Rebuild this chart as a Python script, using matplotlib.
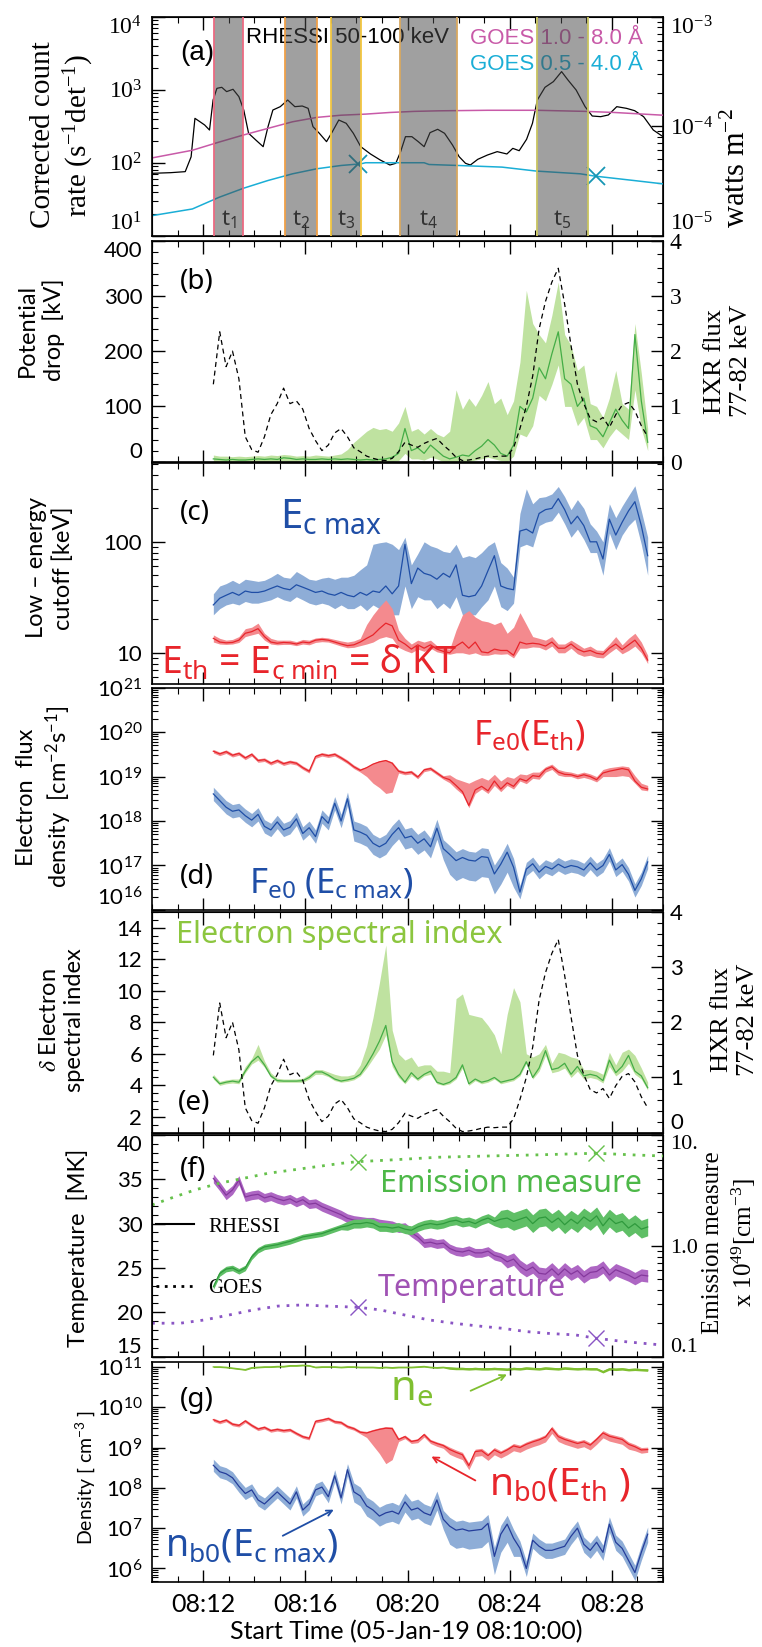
import numpy as np
import matplotlib
matplotlib.use('Agg')
import matplotlib.pyplot as plt
from matplotlib.lines import Line2D
from matplotlib.ticker import FixedLocator, MultipleLocator, NullFormatter, FuncFormatter, LogLocator

SANS = ['Lato', 'DejaVu Sans']
SERIF = ['Liberation Serif', 'DejaVu Serif']
CAP = ['Noto Sans', 'DejaVu Sans']       # coloured captions
NARROW = ['Liberation Sans Narrow', 'Liberation Sans', 'DejaVu Sans']

plt.rcParams['font.family'] = SANS
plt.rcParams['font.weight'] = 'normal'
plt.rcParams['mathtext.fontset'] = 'stix'
plt.rcParams['mathtext.default'] = 'regular'

# ── Panel (a): RHESSI 50-100 keV count rate and GOES fluxes ────────────────────
A_TIME = [10.0, 10.73, 11.30, 11.53, 11.68, 11.87, 12.06, 12.25, 12.39, 12.54, 12.73, 12.92,
          13.17, 13.40, 13.59, 13.78, 14.06, 14.35, 14.54, 14.73, 15.02, 15.31, 15.59, 15.88,
          16.11, 16.30, 16.55, 16.83, 17.06, 17.31, 17.60, 17.88, 18.17, 18.55, 18.93, 19.31,
          19.54, 19.73, 19.92, 20.17, 20.42, 20.65, 20.88, 21.18, 21.45, 21.76, 22.02, 22.27,
          22.46, 22.75, 23.13, 23.51, 23.89, 24.12, 24.37, 24.66, 24.89, 25.08, 25.38, 25.71,
          26.03, 26.28, 26.60, 26.95, 27.23, 27.56, 27.86, 28.19, 28.57, 28.89, 29.24, 29.62, 30.0]
A_LOGRATE = [1.854, 1.863, 1.877, 2.08, 2.607, 2.562, 2.516, 2.447, 2.858, 3.018, 3.032, 2.973,
             3.005, 2.904, 2.721, 2.402, 2.311, 2.219, 2.493, 2.721, 2.767, 2.858, 2.767, 2.776,
             2.744, 2.493, 2.402, 2.288, 2.425, 2.584, 2.539, 2.402, 2.219, 2.119, 2.037, 1.968,
             1.991, 2.151, 2.356, 2.356, 2.288, 2.219, 2.411, 2.457, 2.402, 2.242, 2.082, 1.991,
             1.968, 2.046, 2.105, 2.151, 2.119, 2.196, 2.164, 2.32, 2.539, 2.858, 3.032, 3.11,
             3.247, 3.132, 2.995, 2.767, 2.639, 2.63, 2.653, 2.767, 2.744, 2.712, 2.63, 2.447, 2.356]
G_LONG_TIME = [10.0, 11.58, 12.63, 13.59, 14.54, 15.50, 16.45, 17.40, 18.36, 19.31, 20.27, 21.22,
               23.13, 25.04, 26.95, 28.09, 28.85, 30.0]
G_LONG_LOG = [-4.29, -4.22, -4.145, -4.08, -4.02, -3.96, -3.92, -3.90, -3.89, -3.875, -3.865, -3.86,
              -3.855, -3.855, -3.865, -3.875, -3.885, -3.90]
G_SHORT_TIME = [10.0, 11.58, 12.63, 13.59, 14.54, 15.50, 16.45, 17.40, 18.17, 18.36, 20.65, 20.84,
                21.99, 23.70, 25.04, 26.76, 27.33, 28.85, 30.0]
G_SHORT_LOG = [-4.817, -4.756, -4.649, -4.566, -4.496, -4.435, -4.389, -4.359, -4.344, -4.334, -4.334,
               -4.35, -4.359, -4.374, -4.41, -4.435, -4.456, -4.496, -4.527]
G_MARK_TIME = [18.06, 27.39]
G_MARK_LOG = [-4.344, -4.452]
BAND_START = [12.42, 15.20, 16.99, 19.71, 25.05]
BAND_END = [13.58, 16.46, 18.19, 21.92, 27.07]
BAND_EDGE = ['#ec6a82', '#f0a048', '#f2c640', '#d8a860', '#c8c460']
BAND_LABEL = ['1', '2', '3', '4', '5']

# ── Spectral-fit time grid (minutes after 08:10:00) ────────────────────────────
TIME = np.round(12.4 + 0.25 * np.arange(69), 2)

# (b) potential drop [kV] and HXR flux 77-82 keV
PD = [5, 4, 3, 4, 3, 3, 4, 5, 4, 5, 4, 7, 6, 4, 5, 4, 4, 5, 4, 5, 4, 5, 4, 3, 4, 3, 4, 5, 8, 15,
      60, 20, 25, 15, 30, 20, 10, 5, 8, 12, 10, 20, 28, 40, 30, 15, 10, 30, 100, 90, 115, 170, 150,
      195, 235, 150, 140, 100, 115, 65, 60, 45, 70, 95, 75, 60, 230, 110, 35]
PD_LO = [0, 0, 0, 0, 0, 0, 0, 0, 0, 0, 0, 1, 0, 0, 0, 0, 0, 0, 0, 0, 0, 0, 0, 0, 0, 0, 0, 0, 0, 2,
         15, 5, 5, 3, 8, 5, 0, 0, 0, 0, 0, 3, 5, 8, 5, 2, 0, 10, 50, 45, 65, 120, 110, 140, 175, 100,
         100, 65, 80, 40, 40, 25, 45, 60, 50, 40, 130, 60, 20]
PD_HI = [12, 10, 10, 9, 10, 9, 10, 11, 10, 12, 11, 13, 12, 10, 11, 10, 12, 11, 10, 12, 14, 22, 35,
         45, 55, 62, 58, 60, 55, 70, 100, 55, 60, 50, 60, 50, 45, 55, 130, 95, 115, 100, 120, 145,
         105, 115, 85, 110, 180, 310, 250, 230, 215, 265, 325, 230, 210, 165, 175, 105, 100, 80,
         115, 165, 105, 95, 250, 160, 60]
HXR = [1.40, 2.35, 1.72, 2.0, 1.5, 0.45, 0.22, 0.17, 0.45, 0.85, 1.05, 1.33, 1.05, 1.10, 0.95, 0.6,
       0.38, 0.2, 0.3, 0.52, 0.6, 0.45, 0.25, 0.18, 0.1, 0.06, 0.03, 0.02, 0.06, 0.18, 0.35, 0.3,
       0.26, 0.33, 0.38, 0.42, 0.3, 0.2, 0.08, 0.02, 0.03, 0.05, 0.08, 0.1, 0.09, 0.1, 0.1, 0.25,
       0.6, 1.0, 1.55, 2.4, 2.9, 3.25, 3.5, 2.85, 2.1, 1.4, 1.05, 0.78, 0.72, 0.8, 0.62, 0.85, 1.02,
       1.07, 0.92, 0.65, 0.45]

# (c) low-energy cutoffs [keV]
EC = [27, 31, 33, 35, 33, 36, 35, 35, 36, 38, 40, 38, 37, 41, 39, 37, 35, 36, 34, 33, 35, 33, 32,
      35, 33, 36, 35, 40, 34, 40, 95, 42, 58, 52, 50, 46, 52, 48, 62, 33, 32, 33, 40, 55, 75, 40,
      38, 37, 125, 130, 120, 180, 195, 200, 245, 195, 145, 170, 140, 100, 100, 70, 160, 115, 150,
      190, 230, 140, 75]
EC_LO = [22, 25, 27, 28, 27, 29, 28, 28, 29, 30, 32, 30, 29, 32, 30, 28, 27, 28, 27, 25, 27, 25,
         25, 27, 24, 27, 25, 26, 22, 22, 40, 25, 32, 30, 30, 25, 28, 25, 32, 22, 22, 22, 26, 30, 40,
         26, 24, 28, 90, 95, 90, 140, 150, 155, 185, 145, 110, 130, 105, 80, 80, 50, 120, 85, 115,
         140, 160, 95, 50]
EC_HI = [34, 40, 42, 45, 42, 46, 45, 44, 45, 48, 52, 48, 47, 54, 50, 46, 45, 47, 48, 46, 48, 48,
         50, 56, 62, 95, 98, 100, 95, 85, 110, 62, 78, 100, 92, 88, 82, 80, 95, 72, 75, 72, 80, 92,
         100, 65, 58, 48, 180, 300, 220, 250, 255, 270, 315, 255, 195, 240, 200, 145, 125, 100, 220,
         165, 210, 260, 320, 190, 110]
ETH = [13.5, 12.5, 12.3, 12.4, 13, 15, 15.5, 16.5, 14, 12.5, 12.2, 12.4, 12.3, 12, 12.5, 12.3, 13,
       13.2, 13, 12.5, 12, 11.6, 11.8, 12.5, 13.5, 14.5, 16.5, 18.5, 17.5, 13, 12, 10.8, 11.8, 11,
       11.8, 10.8, 10.3, 10, 11.5, 12.5, 11, 12.5, 10.2, 10, 10.8, 10.5, 10.5, 9.5, 12.5, 12, 12.2,
       12, 11.5, 12.5, 11, 11, 12, 10.8, 10.2, 10.5, 9.9, 9.7, 11, 12, 10.7, 11.8, 13, 11, 8.6]
ETH_LO = [12.5, 12, 11.9, 12, 12.4, 14, 14.5, 15, 13, 12, 11.8, 11.9, 11.9, 11.6, 12, 11.8, 12.4,
          12.6, 12.5, 12, 11.5, 11.1, 11.2, 11.6, 12, 12.5, 13.5, 14, 13.5, 11.2, 10.5, 10, 10.8,
          10.3, 11, 10.2, 9.9, 9.7, 10, 10, 9.7, 10, 9.5, 9.5, 9.8, 9.7, 9.8, 9, 11, 11, 11.3, 11.2,
          10.6, 11.5, 10, 10, 11, 9.8, 9.3, 9.5, 9.1, 9, 10, 11, 9.8, 10.5, 11.5, 10, 8]
ETH_HI = [14.5, 13.5, 13, 13.2, 14, 16.5, 17, 18.5, 15, 13.5, 13, 13, 13, 12.6, 13.2, 13, 13.6,
          13.8, 13.6, 13.2, 12.8, 12.5, 12.8, 13.5, 18, 22, 26, 30, 25, 16, 13.5, 12, 13, 12.5, 13,
          11.6, 11, 10.8, 16, 22, 24, 21, 19.5, 19, 18, 19, 15, 17, 23, 18, 14, 13.5, 13, 14, 12, 12,
          13, 12, 11, 11.5, 10.6, 10.5, 12, 14, 11.8, 13.5, 15, 12.5, 9.5]

# (d) electron flux density, log10 [cm^-2 s^-1]
FTH = [19.57, 19.51, 19.56, 19.48, 19.52, 19.42, 19.5, 19.36, 19.38, 19.3, 19.36, 19.29, 19.33,
       19.3, 19.2, 19.12, 19.45, 19.5, 19.47, 19.5, 19.42, 19.33, 19.22, 19.14, 19.2, 19.28, 19.33,
       19.36, 19.3, 19.12, 19.08, 19.1, 18.99, 19.15, 19.18, 19.08, 18.98, 18.93, 18.8, 18.66,
       18.35, 18.7, 18.78, 18.68, 18.9, 18.72, 18.86, 18.78, 18.95, 18.9, 19.02, 19.0, 19.16,
       19.22, 19.1, 19.05, 19.04, 19.0, 19.04, 19.0, 18.93, 19.08, 19.12, 19.15, 19.18, 19.15,
       18.9, 18.76, 18.72]
FTH_LO = [19.53, 19.47, 19.52, 19.44, 19.48, 19.38, 19.46, 19.32, 19.34, 19.26, 19.32, 19.25,
          19.29, 19.26, 19.16, 19.08, 19.41, 19.46, 19.43, 19.46, 19.38, 19.29, 19.18, 19.1, 19.0,
          18.85, 18.75, 18.62, 18.65, 19.08, 19.04, 19.06, 18.95, 19.11, 19.14, 19.04, 18.94,
          18.86, 18.72, 18.6, 18.3, 18.62, 18.72, 18.62, 18.8, 18.66, 18.8, 18.72, 18.9, 18.84,
          18.96, 18.94, 19.1, 19.16, 19.03, 19.0, 19.0, 18.95, 18.98, 18.94, 18.88, 19.0, 19.0,
          19.0, 19.02, 19.0, 18.85, 18.7, 18.68]
FTH_HI = [19.61, 19.55, 19.6, 19.52, 19.56, 19.46, 19.54, 19.4, 19.42, 19.34, 19.4, 19.33, 19.37,
          19.34, 19.24, 19.16, 19.49, 19.54, 19.51, 19.54, 19.46, 19.37, 19.26, 19.18, 19.22, 19.3,
          19.36, 19.38, 19.33, 19.16, 19.12, 19.14, 19.03, 19.19, 19.22, 19.12, 19.02, 19.04,
          18.95, 18.9, 18.85, 18.92, 18.98, 18.92, 19.05, 18.9, 19.0, 18.96, 19.06, 19.04, 19.1,
          19.1, 19.22, 19.28, 19.16, 19.12, 19.1, 19.06, 19.1, 19.06, 19.0, 19.16, 19.2, 19.22,
          19.24, 19.22, 19.02, 18.85, 18.8]
FCM = [18.61, 18.46, 18.31, 18.22, 18.25, 18.12, 18.02, 18.15, 17.88, 17.8, 17.98, 17.8, 17.86,
       18.05, 17.72, 17.85, 17.65, 18.1, 17.95, 18.4, 18.0, 18.5, 17.8, 17.75, 17.68, 17.5, 17.42,
       17.5, 17.7, 17.85, 17.62, 17.66, 17.5, 17.6, 17.42, 17.84, 17.38, 17.25, 17.11, 17.18,
       17.12, 17.1, 17.2, 17.18, 16.81, 17.03, 17.3, 16.96, 16.4, 16.92, 17.04, 16.85, 16.98,
       16.92, 17.03, 16.95, 17.0, 16.97, 16.9, 17.06, 16.9, 17.0, 17.25, 16.9, 17.02, 16.8, 16.44,
       16.7, 17.08]
FCM_LO = [18.46, 18.31, 18.16, 18.07, 18.1, 17.97, 17.87, 18.0, 17.73, 17.65, 17.83, 17.65, 17.71,
          17.9, 17.57, 17.7, 17.5, 17.95, 17.8, 18.25, 17.85, 18.35, 17.55, 17.5, 17.43, 17.25,
          17.17, 17.25, 17.45, 17.6, 17.37, 17.41, 17.25, 17.35, 17.17, 17.59, 17.13, 16.8, 16.66,
          16.73, 16.67, 16.65, 16.75, 16.73, 16.36, 16.58, 16.85, 16.51, 16.25, 16.77, 16.89, 16.7,
          16.83, 16.77, 16.88, 16.8, 16.85, 16.82, 16.75, 16.91, 16.75, 16.85, 17.1, 16.75, 16.87,
          16.65, 16.29, 16.55, 16.93]
FCM_HI = [18.76, 18.61, 18.46, 18.37, 18.4, 18.27, 18.17, 18.3, 18.03, 17.95, 18.13, 17.95, 18.01,
          18.2, 17.87, 18.0, 17.8, 18.25, 18.1, 18.55, 18.15, 18.65, 18.0, 17.95, 17.88, 17.7, 17.62,
          17.7, 17.9, 18.05, 17.82, 17.86, 17.7, 17.8, 17.62, 18.04, 17.58, 17.45, 17.31, 17.38,
          17.32, 17.3, 17.4, 17.38, 17.01, 17.23, 17.5, 17.16, 16.55, 17.07, 17.19, 17.0, 17.13,
          17.07, 17.18, 17.1, 17.15, 17.12, 17.05, 17.21, 17.05, 17.15, 17.4, 17.05, 17.17, 16.95,
          16.59, 16.85, 17.23]

# (e) electron spectral index
DELTA = [4.52, 4.1, 4.2, 4.27, 4.2, 4.9, 5.5, 5.85, 5.3, 4.6, 4.3, 4.27, 4.27, 4.27, 4.3, 4.5, 4.85,
         4.85, 4.65, 4.4, 4.27, 4.35, 4.45, 4.7, 5.3, 6.0, 6.8, 7.8, 5.5, 4.7, 4.2, 4.8, 4.4, 4.7,
         4.9, 4.2, 4.06, 4.2, 4.5, 5.3, 4.1, 4.4, 4.2, 4.3, 4.5, 4.2, 4.3, 4.4, 4.7, 5.5, 4.5, 5.1,
         6.2, 5.0, 5.1, 5.4, 4.7, 5.2, 4.6, 4.7, 4.6, 4.3, 5.6, 4.8, 5.2, 5.9, 4.9, 4.6, 3.85]
DELTA_LO = [4.4, 4.0, 4.1, 4.15, 4.1, 4.8, 5.35, 5.6, 5.15, 4.5, 4.2, 4.2, 4.2, 4.2, 4.2, 4.4, 4.7,
            4.7, 4.55, 4.3, 4.2, 4.25, 4.35, 4.6, 5.1, 5.7, 6.3, 7.2, 5.2, 4.5, 4.1, 4.6, 4.3, 4.6,
            4.7, 4.1, 4.0, 4.1, 4.4, 5.1, 4.0, 4.3, 4.1, 4.2, 4.4, 4.1, 4.2, 4.3, 4.6, 5.4, 4.4, 4.9,
            5.9, 4.8, 4.9, 5.1, 4.5, 4.9, 4.4, 4.5, 4.4, 4.15, 5.2, 4.6, 4.9, 5.4, 4.7, 4.4, 3.7]
DELTA_HI = [4.7, 4.25, 4.35, 4.4, 4.4, 5.2, 5.7, 6.6, 5.55, 4.8, 4.45, 4.4, 4.4, 4.4, 4.45, 4.7,
            5.0, 5.0, 4.85, 4.7, 4.6, 4.6, 4.7, 5.3, 6.5, 8.3, 10.5, 12.9, 7.5, 6.0, 5.6, 5.8, 5.2,
            5.3, 5.3, 4.9, 4.9, 4.8, 9.5, 9.8, 8.5, 8.4, 8.3, 7.8, 7.2, 6.0, 8.5, 10.2, 9.3, 6.0,
            5.8, 6.0, 6.6, 5.4, 6.1, 6.0, 5.8, 5.7, 5.0, 5.0, 4.9, 4.7, 6.1, 5.3, 6.1, 6.3, 5.9, 5.1,
            4.2]

# (f) RHESSI temperature [MK] and emission measure log10 [1e49 cm^-3]
TEMP = [35.1, 34.2, 33.2, 33.8, 34.9, 33.0, 33.2, 33.3, 32.9, 33.1, 32.8, 32.6, 32.8, 32.4, 32.7,
        32.2, 32.3, 31.9, 31.6, 31.3, 31.0, 30.6, 30.4, 30.3, 30.2, 30.2, 30.0, 29.9, 29.8, 29.5,
        29.6, 29.0, 28.5, 27.8, 27.9, 27.7, 27.8, 27.2, 26.9, 26.8, 27.0, 26.7, 26.7, 26.9, 26.4,
        26.2, 25.7, 26.0, 25.2, 24.7, 25.1, 24.4, 24.3, 24.9, 24.2, 24.9, 24.3, 24.7, 24.0, 24.5,
        24.6, 25.1, 24.2, 24.8, 24.5, 24.2, 23.8, 24.2, 24.1]
TEMP_ERR = [0.5] * 46 + [0.7] * 23
EM = [-0.37, -0.25, -0.21, -0.2, -0.23, -0.2, -0.1, -0.04, -0.01, 0.0, 0.01, 0.025, 0.04, 0.06,
      0.08, 0.09, 0.1, 0.11, 0.13, 0.15, 0.17, 0.18, 0.2, 0.2, 0.21, 0.2, 0.17, 0.17, 0.16, 0.17,
      0.15, 0.14, 0.17, 0.19, 0.2, 0.19, 0.2, 0.22, 0.23, 0.21, 0.22, 0.2, 0.23, 0.25, 0.22, 0.24,
      0.25, 0.22, 0.24, 0.26, 0.2, 0.25, 0.26, 0.21, 0.25, 0.19, 0.24, 0.2, 0.26, 0.22, 0.27, 0.18,
      0.25, 0.2, 0.22, 0.16, 0.2, 0.15, 0.17]
EM_ERR = [0.025] * 21 + [0.04] * 24 + [0.08] * 24
GF_TIME = [10.0, 10.73, 11.68, 12.63, 13.59, 14.54, 15.50, 16.45, 17.40, 18.06, 19.31, 21.22,
           23.13, 25.04, 27.39, 28.82, 30.0]
GF_EM = [0.368, 0.429, 0.504, 0.564, 0.609, 0.654, 0.684, 0.714, 0.744, 0.759, 0.774, 0.799,
         0.81, 0.82, 0.835, 0.82, 0.81]
GT_TIME = [10.0, 11.11, 12.06, 13.02, 13.97, 14.92, 15.88, 16.83, 18.06, 18.93, 19.88, 20.84,
           21.79, 22.75, 23.70, 24.66, 25.61, 26.56, 27.39, 28.47, 30.0]
GT_TEMP = [18.77, 18.77, 19.14, 19.7, 20.27, 20.7, 20.83, 20.7, 20.57, 20.27, 19.7, 19.14, 18.77,
           18.46, 18.2, 17.82, 17.6, 17.45, 17.07, 16.7, 16.3]
GF_MARK_TIME = [18.06, 27.39]
GF_MARK_EM = [0.759, 0.835]
GF_MARK_TEMP = [20.57, 17.07]

# (g) densities log10 [cm^-3]
NE = [11.0, 11.0, 10.99, 10.97, 10.95, 10.93, 10.98, 10.99, 11.0, 11.0, 11.01, 11.01, 11.03, 11.03,
      11.04, 11.03, 10.99, 11.0, 11.0, 11.0, 10.99, 11.0, 11.0, 10.99, 10.99, 10.99, 10.98, 10.99,
      10.98, 10.99, 10.99, 10.99, 11.0, 11.01, 10.99, 10.98, 10.99, 10.97, 10.96, 10.96, 10.95,
      10.96, 10.95, 10.95, 10.96, 10.95, 10.94, 10.96, 10.95, 10.97, 10.96, 10.95, 10.97, 10.96,
      10.95, 10.97, 10.96, 10.95, 10.96, 10.95, 10.95, 10.88, 10.95, 10.94, 10.95, 10.93, 10.94,
      10.93, 10.92]
NE_ERR = [0.015] * 37 + [0.03] * 32
NBTH = [9.69, 9.63, 9.68, 9.58, 9.55, 9.66, 9.55, 9.46, 9.5, 9.42, 9.45, 9.42, 9.44, 9.35, 9.27,
        9.23, 9.65, 9.68, 9.72, 9.64, 9.62, 9.52, 9.47, 9.38, 9.36, 9.41, 9.45, 9.48, 9.47, 9.2,
        9.27, 9.15, 9.18, 9.32, 9.16, 9.1, 9.05, 8.95, 8.88, 8.82, 8.55, 8.9, 8.92, 8.8, 8.94, 8.86,
        8.94, 9.04, 9.0, 9.08, 9.14, 9.19, 9.26, 9.47, 9.27, 9.2, 9.15, 9.1, 9.14, 9.06, 9.2, 9.36,
        9.28, 9.24, 9.2, 9.08, 9.02, 8.94, 8.95]
NBTH_LO = [9.65, 9.59, 9.64, 9.54, 9.51, 9.62, 9.51, 9.42, 9.46, 9.38, 9.41, 9.38, 9.4, 9.31, 9.23,
           9.19, 9.61, 9.64, 9.68, 9.6, 9.58, 9.48, 9.43, 9.34, 9.25, 9.05, 8.85, 8.6, 8.7, 9.15,
           9.22, 9.1, 9.12, 9.26, 9.1, 9.03, 8.98, 8.83, 8.76, 8.7, 8.45, 8.78, 8.8, 8.68, 8.82,
           8.74, 8.82, 8.92, 8.88, 8.96, 9.02, 9.07, 9.14, 9.35, 9.15, 9.08, 9.03, 8.98, 9.02, 8.94,
           9.08, 9.24, 9.16, 9.12, 9.08, 8.96, 8.92, 8.86, 8.88]
NBTH_HI = [9.73, 9.67, 9.72, 9.62, 9.59, 9.7, 9.59, 9.5, 9.54, 9.46, 9.49, 9.46, 9.48, 9.39, 9.31,
           9.27, 9.69, 9.72, 9.76, 9.68, 9.66, 9.56, 9.51, 9.42, 9.4, 9.45, 9.49, 9.52, 9.51, 9.24,
           9.31, 9.19, 9.22, 9.36, 9.2, 9.14, 9.09, 9.01, 8.94, 8.88, 8.61, 8.96, 8.98, 8.86, 9.0,
           8.92, 9.0, 9.1, 9.06, 9.14, 9.2, 9.25, 9.32, 9.53, 9.33, 9.26, 9.21, 9.16, 9.2, 9.12,
           9.26, 9.42, 9.34, 9.3, 9.26, 9.14, 9.08, 9.0, 9.01]
NBCM = [8.56, 8.4, 8.35, 8.25, 8.04, 7.86, 7.95, 7.7, 7.6, 7.75, 7.9, 7.75, 7.6, 7.9, 7.45, 7.6,
        7.95, 8.02, 7.78, 8.3, 7.75, 8.45, 7.9, 7.8, 7.55, 7.45, 7.3, 7.38, 7.42, 7.35, 7.65, 7.45,
        7.5, 7.38, 7.32, 7.7, 7.22, 7.05, 6.95, 6.98, 6.93, 6.95, 6.97, 7.12, 6.3, 6.85, 7.1, 6.75,
        6.5, 6.0, 6.7, 6.55, 6.45, 6.45, 6.5, 6.55, 6.8, 7.0, 6.6, 6.45, 6.65, 6.4, 7.1, 6.65, 6.5,
        6.2, 5.9, 6.4, 6.85]
NBCM_LO = [8.41, 8.25, 8.2, 8.1, 7.89, 7.71, 7.8, 7.55, 7.45, 7.6, 7.75, 7.6, 7.45, 7.75, 7.3,
           7.45, 7.8, 7.87, 7.63, 8.15, 7.6, 8.3, 7.65, 7.55, 7.3, 7.2, 7.05, 7.13, 7.17, 7.1, 7.4,
           7.2, 7.25, 7.13, 7.07, 7.45, 6.97, 6.6, 6.5, 6.53, 6.48, 6.5, 6.52, 6.67, 5.85, 6.4,
           6.65, 6.3, 6.3, 5.8, 6.5, 6.35, 6.25, 6.25, 6.3, 6.35, 6.6, 6.8, 6.4, 6.25, 6.45, 6.2,
           6.9, 6.45, 6.3, 6.0, 5.7, 6.2, 6.65]
NBCM_HI = [8.71, 8.55, 8.5, 8.4, 8.19, 8.01, 8.1, 7.85, 7.75, 7.9, 8.05, 7.9, 7.75, 8.05, 7.6,
           7.75, 8.1, 8.17, 7.93, 8.45, 7.9, 8.6, 8.12, 8.02, 7.77, 7.67, 7.52, 7.6, 7.64, 7.57,
           7.87, 7.67, 7.72, 7.6, 7.54, 7.92, 7.44, 7.27, 7.17, 7.2, 7.15, 7.17, 7.19, 7.34, 6.52,
           7.07, 7.32, 6.97, 6.68, 6.18, 6.88, 6.73, 6.63, 6.63, 6.68, 6.73, 6.98, 7.18, 6.78, 6.63,
           6.83, 6.58, 7.28, 6.83, 6.68, 6.38, 6.08, 6.58, 7.03]

XTICKS = [12, 16, 20, 24, 28]

# colours
MAG, CYAN, XCOL = '#c85aa8', '#1aaed6', '#1796b4'
GR_F, GR_L = '#bfe2a0', '#44ad46'
BL_F, BL_L = '#8eadd7', '#1f4ea6'
RD_F, RD_L = '#f48a8e', '#e8252b'
PU_F, PU_L, PU_D = '#ad66c3', '#85389d', '#8a55c4'
EM_F, EM_L, EM_D = '#5fbf66', '#2f9a3d', '#66c14c'
NE_C = '#7fbf30'

fig = plt.figure(figsize=(7.62, 16.47), dpi=100)
L, W = 0.1995, 0.6706
POS = {'a': (0.8569, 0.1330), 'b': (0.7197, 0.1342), 'c': (0.5845, 0.1345), 'd': (0.4475, 0.1350),
       'e': (0.3123, 0.1340), 'f': (0.1763, 0.1346), 'g': (0.0396, 0.1334)}
ax = {k: fig.add_axes([L, b, W, h]) for k, (b, h) in POS.items()}


def frame(a, right=True):
    a.set_xlim(10, 30)
    a.xaxis.set_major_locator(FixedLocator(XTICKS))
    a.xaxis.set_minor_locator(MultipleLocator(1))
    a.tick_params(which='both', direction='in', top=True, bottom=True, left=True, right=right,
                  labelbottom=False, labelsize=16, pad=7)
    a.tick_params(which='major', length=9, width=1)
    a.tick_params(which='minor', length=4.5, width=0.8)
    for s in a.spines.values():
        s.set_linewidth(1.2)


def frame_right(a, labelsize=16):
    a.tick_params(which='both', direction='in', right=True, labelsize=labelsize, pad=5)
    a.tick_params(which='major', length=9, width=1)
    a.tick_params(which='minor', length=4.5, width=0.8)


def decades(a, lo, hi):
    a.yaxis.set_major_locator(FixedLocator([10.0 ** p for p in range(lo, hi + 1)]))
    a.yaxis.set_major_formatter(FuncFormatter(lambda v, p: r'$10^{%d}$' % round(np.log10(v))))
    a.yaxis.set_minor_locator(LogLocator(base=10, subs=np.arange(2, 10), numticks=20))
    a.yaxis.set_minor_formatter(NullFormatter())


def inset(a, side=1, top=True, bottom=True):
    ticks = a.yaxis.get_major_ticks()
    lab = (lambda t: t.label1) if side == 1 else (lambda t: t.label2)
    if bottom:
        lab(ticks[0]).set_va('bottom')
    if top:
        lab(ticks[-1]).set_va('top')


def p10(v):
    return 10.0 ** np.asarray(v)


# ── (a) ────────────────────────────────────────────────────────────────────────
a = ax['a']
frame(a, right=False)
a.set_yscale('log'); a.set_ylim(10, 1e4); decades(a, 1, 4)
a.tick_params(axis='y', labelfontfamily='Liberation Serif', labelsize=17)
a.plot(A_TIME, p10(A_LOGRATE), color='k', lw=0.9, zorder=2)
ar = a.twinx()
ar.set_yscale('log'); ar.set_ylim(1e-5, 1e-3); decades(ar, -5, -3)
frame_right(ar, 17)
ar.tick_params(axis='y', labelfontfamily='Liberation Serif')
ar.plot(G_LONG_TIME, p10(G_LONG_LOG), color=MAG, lw=1.1, zorder=2)
ar.plot(G_SHORT_TIME, p10(G_SHORT_LOG), color=CYAN, lw=1.1, zorder=2)
ar.plot(G_MARK_TIME, p10(G_MARK_LOG), ls='none', marker='x', ms=13, mew=1.3, color=XCOL, zorder=3)
tx = ar.get_xaxis_transform()
for t0, t1, ec, lab in zip(BAND_START, BAND_END, BAND_EDGE, BAND_LABEL):
    ar.axvspan(t0, t1, facecolor='#4a4a4a', alpha=0.52, edgecolor='none', zorder=5)
    ar.axvline(t0, color=ec, lw=1.3, zorder=6)
    ar.axvline(t1, color=ec, lw=1.3, zorder=6)
    ar.text((t0 + t1) / 2, 0.075, 't$_{%s}$' % lab, transform=tx, ha='center', va='center',
            fontsize=16, family=CAP, color='#333333', zorder=7)
ar.text(13.68, 0.905, 'RHESSI 50-100 keV', transform=tx, fontsize=16, family=NARROW,
        va='center', zorder=4)
ar.text(22.46, 0.90, 'GOES 1.0 - 8.0 Å', transform=tx, fontsize=16, family=NARROW,
        va='center', color=MAG, zorder=4)
ar.text(22.46, 0.78, 'GOES 0.5 - 4.0 Å', transform=tx, fontsize=16, family=NARROW,
        va='center', color=CYAN, zorder=4)
ar.text(11.1, 0.834, '(a)', transform=tx, fontsize=20, family=NARROW, va='center', zorder=4)

# ── (b) ────────────────────────────────────────────────────────────────────────
b = ax['b']
frame(b, right=False)
b.set_ylim(0, 400)
b.yaxis.set_major_locator(FixedLocator([0, 100, 200, 300, 400]))
b.yaxis.set_minor_locator(MultipleLocator(20))
b.fill_between(TIME, PD_LO, PD_HI, color=GR_F, lw=0)
b.plot(TIME, PD, color=GR_L, lw=0.9)
b.text(11.1, 0.814, '(b)', transform=b.get_xaxis_transform(), fontsize=20, family=CAP,
       va='center')
br = b.twinx()
br.set_ylim(0, 4)
br.yaxis.set_major_locator(FixedLocator([0, 1, 2, 3, 4]))
br.yaxis.set_minor_locator(MultipleLocator(0.25))
frame_right(br, 17)
br.tick_params(axis='y', labelfontfamily='Liberation Serif')
br.plot(TIME, HXR, color='k', lw=0.9, dashes=(4, 3))

# ── (c) ────────────────────────────────────────────────────────────────────────
c = ax['c']
frame(c)
c.set_yscale('log'); c.set_ylim(5.2, 515)
c.yaxis.set_major_locator(FixedLocator([10, 100]))
c.yaxis.set_major_formatter(FuncFormatter(lambda v, p: '%d' % v))
c.yaxis.set_minor_locator(LogLocator(base=10, subs=np.arange(2, 10), numticks=20))
c.yaxis.set_minor_formatter(NullFormatter())
c.fill_between(TIME, EC_LO, EC_HI, color=BL_F, lw=0)
c.plot(TIME, EC, color=BL_L, lw=0.9)
c.fill_between(TIME, ETH_LO, ETH_HI, color=RD_F, lw=0)
c.plot(TIME, ETH, color=RD_L, lw=0.9)
tc = c.get_xaxis_transform()
c.text(11.1, 0.772, '(c)', transform=tc, fontsize=20, family=CAP, va='center')
c.text(15.02, 0.704, r'E$_{c\ max}$', transform=tc, fontsize=29, family=CAP,
       color=BL_L, va='baseline')
c.text(10.34, 0.05, r'E$_{th}$ = E$_{c\ min}$ = δ KT', transform=tc, fontsize=27, family=CAP,
       color=RD_L, va='baseline')

# ── (d) ────────────────────────────────────────────────────────────────────────
d = ax['d']
frame(d)
d.set_yscale('log'); d.set_ylim(1e16, 1e21); decades(d, 16, 21)
d.fill_between(TIME, p10(FCM_LO), p10(FCM_HI), color=BL_F, lw=0)
d.plot(TIME, p10(FCM), color=BL_L, lw=0.9)
d.fill_between(TIME, p10(FTH_LO), p10(FTH_HI), color=RD_F, lw=0)
d.plot(TIME, p10(FTH), color=RD_L, lw=0.9)
td = d.get_xaxis_transform()
d.text(11.1, 0.15, '(d)', transform=td, fontsize=20, family=CAP, va='center')
d.text(22.56, 0.742, r'F$_{e0}$(E$_{th}$)', transform=td, fontsize=25, family=CAP,
       color=RD_L, va='baseline')
d.text(13.78, 0.075, r'F$_{e0}$ (E$_{c\ max}$)', transform=td, fontsize=25, family=CAP,
       color=BL_L, va='baseline')

# ── (e) ────────────────────────────────────────────────────────────────────────
e = ax['e']
frame(e, right=False)
e.set_ylim(1, 15)
e.yaxis.set_major_locator(FixedLocator([2, 4, 6, 8, 10, 12, 14]))
e.yaxis.set_minor_locator(MultipleLocator(0.5))
e.fill_between(TIME, DELTA_LO, DELTA_HI, color=GR_F, lw=0)
e.plot(TIME, DELTA, color=GR_L, lw=0.9)
te = e.get_xaxis_transform()
e.text(11.0, 0.133, '(e)', transform=te, fontsize=20, family=CAP, va='center')
e.text(10.92, 0.858, 'Electron spectral index', transform=te, fontsize=22, family=CAP,
       color='#8cc63f', va='baseline')
er = e.twinx()
er.set_ylim(0, 4)
er.yaxis.set_major_locator(FixedLocator([0, 1, 2, 3, 4]))
er.yaxis.set_minor_locator(MultipleLocator(0.2))
frame_right(er, 16)
er.plot(TIME, HXR, color='k', lw=0.9, dashes=(4, 3))

# ── (f) ────────────────────────────────────────────────────────────────────────
f = ax['f']
frame(f, right=False)
f.set_ylim(15, 40)
f.yaxis.set_major_locator(FixedLocator([15, 20, 25, 30, 35, 40]))
f.yaxis.set_minor_locator(MultipleLocator(1))
temp, terr = np.array(TEMP), np.array(TEMP_ERR)
f.fill_between(TIME, temp - terr, temp + terr, color=PU_F, lw=0)
f.plot(TIME, temp, color=PU_L, lw=0.9)
f.plot(GT_TIME, GT_TEMP, color=PU_D, lw=2, ls=(0, (1, 2.5)))
f.plot(GF_MARK_TIME, GF_MARK_TEMP, ls='none', marker='x', ms=12, mew=1.0, color=PU_D)
tf = f.get_xaxis_transform()
f.text(11.1, 0.842, '(f)', transform=tf, fontsize=20, family=CAP, va='center')
f.text(18.84, 0.31, 'Temperature', transform=tf, fontsize=22, family=CAP,
       color='#a052b4', va='center')
f.legend([Line2D([], [], color='k', lw=1.5), Line2D([], [], color='k', lw=2, ls=(0, (1, 2)))],
         ['RHESSI', 'GOES'], loc='upper left', bbox_to_anchor=(0.008, 0.63), frameon=False,
         borderpad=0, borderaxespad=0, handlelength=1.8, handletextpad=0.7, labelspacing=2.0,
         prop={'family': SERIF, 'size': 15})
fr = f.twinx()
fr.set_yscale('log'); fr.set_ylim(0.1, 10)
fr.yaxis.set_major_locator(FixedLocator([0.1, 1.0, 10.0]))
fr.yaxis.set_major_formatter(FuncFormatter(lambda v, p: {0.1: '0.1', 1.0: '1.0', 10.0: '10.'}[round(v, 1)]))
fr.yaxis.set_minor_locator(LogLocator(base=10, subs=np.arange(2, 10), numticks=20))
fr.yaxis.set_minor_formatter(NullFormatter())
frame_right(fr, 16)
fr.tick_params(axis='y', labelfontfamily='Liberation Serif')
em, emerr = np.array(EM), np.array(EM_ERR)
fr.fill_between(TIME, p10(em - emerr), p10(em + emerr), color=EM_F, lw=0)
fr.plot(TIME, p10(em), color=EM_L, lw=0.9)
fr.plot(GF_TIME, p10(GF_EM), color=EM_D, lw=2, ls=(0, (1, 2.5)))
fr.plot(GF_MARK_TIME, p10(GF_MARK_EM), ls='none', marker='x', ms=12, mew=1.0, color=EM_D)
fr.text(18.93, 0.744, 'Emission measure', transform=fr.get_xaxis_transform(), fontsize=22,
        family=CAP, color='#4db848', va='baseline')

# ── (g) ────────────────────────────────────────────────────────────────────────
g = ax['g']
frame(g)
g.set_yscale('log'); g.set_ylim(10 ** 5.67, 10 ** 11.12); decades(g, 6, 11)
ne, neerr = np.array(NE), np.array(NE_ERR)
g.fill_between(TIME, p10(ne - neerr), p10(ne + neerr), color=NE_C, lw=0)
g.plot(TIME, p10(ne), color=NE_C, lw=1.0)
g.fill_between(TIME, p10(NBTH_LO), p10(NBTH_HI), color=RD_F, lw=0)
g.plot(TIME, p10(NBTH), color=RD_L, lw=0.9)
g.fill_between(TIME, p10(NBCM_LO), p10(NBCM_HI), color=BL_F, lw=0)
g.plot(TIME, p10(NBCM), color='#243d9a', lw=0.9)
tg = g.get_xaxis_transform()
g.text(11.1, 0.827, '(g)', transform=tg, fontsize=20, family=CAP, va='center')
g.text(19.3, 0.827, r'n$_{e}$', transform=tg, fontsize=30, family=CAP,
       color=NE_C, va='baseline')
g.text(23.2, 0.395, r'n$_{b0}$(E$_{th}$ )', transform=tg, fontsize=28, family=CAP,
       color=RD_L, va='baseline')
g.text(10.5, 0.121, r'n$_{b0}$(E$_{c\ max}$)', transform=tg, fontsize=27, family=CAP,
       color=BL_L, va='baseline')
g.annotate('', xy=(23.99, 10 ** 10.84), xytext=(22.37, 10 ** 10.38),
           arrowprops=dict(arrowstyle='->', color=NE_C, lw=1.3))
g.annotate('', xy=(20.84, 10 ** 8.81), xytext=(22.75, 10 ** 8.15),
           arrowprops=dict(arrowstyle='->', color=RD_L, lw=1.3))
g.annotate('', xy=(17.21, 10 ** 7.49), xytext=(15.02, 10 ** 6.78),
           arrowprops=dict(arrowstyle='->', color=BL_L, lw=1.3))
g.tick_params(axis='x', labelbottom=True, labelsize=18, pad=8)
g.xaxis.set_major_formatter(FuncFormatter(lambda v, p: '08:%02d' % v))

# edge tick labels kept inside the frame
inset(a); inset(ar, side=2); inset(b); inset(d, top=False); inset(f); inset(fr, side=2)
inset(er, side=2, top=False)

# ── axis titles ───────────────────────────────────────────────────────────────
def ylab(xpx, ypx, s, size, family, rot=90):
    fig.text(xpx / 762, 1 - ypx / 1647, s, rotation=rot, ha='center', va='center', ma='center',
             fontsize=size, family=family, linespacing=1.25)

ylab(63, 135, 'Corrected count\nrate (s$^{-1}$det$^{-1}$)', 21, SERIF)
ylab(737, 168, 'watts m$^{-2}$', 22, SERIF)
ylab(41, 330, 'Potential\ndrop  [kV]', 17, SANS)
ylab(728, 361, 'HXR flux\n77-82 keV', 19, SERIF)
ylab(50, 568, 'Low – energy\ncutoff [keV]', 17, SANS)
ylab(45, 797, 'Electron  flux\ndensity  [cm$^{-2}$s$^{-1}$]', 17, SANS)
ylab(62, 1020, r'$\mathit{\delta}$ Electron' + '\nspectral index', 17, SANS)
ylab(735, 1020, 'HXR flux\n77-82 keV', 19, SERIF)
ylab(78, 1248, 'Temperature  [MK]', 17, SANS)
ylab(730, 1243, 'Emission measure\nx 10$^{49}$[cm$^{-3}$]', 18, SERIF)
ylab(85, 1477, 'Density [ cm$^{-3}$ ]', 14, SANS)
fig.text(406 / 762, 1 - 1632 / 1647, 'Start Time (05-Jan-19 08:10:00)', ha='center', va='center',
         fontsize=18)

fig.savefig('out.png', dpi=100, facecolor='white')
